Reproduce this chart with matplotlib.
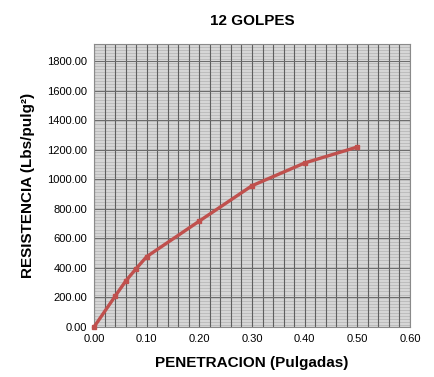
import numpy as np
import matplotlib.pyplot as plt
from matplotlib.ticker import MultipleLocator, FormatStrFormatter

plt.rcParams['font.family'] = ['Liberation Sans', 'DejaVu Sans']

# curva esfuerzo - penetracion
penetracion = [0.00, 0.04, 0.06, 0.08, 0.10, 0.20, 0.30, 0.40, 0.50]
resistencia = [0.0, 208.0, 310.0, 395.0, 476.0, 717.0, 956.0, 1110.0, 1218.0]

fig = plt.figure(figsize=(4.34, 3.77), dpi=100)
ax = fig.add_axes([0.2166, 0.1326, 0.7281, 0.7507])
ax.set_facecolor('#bdbdbd')

ymax = 1915
ax.set_xlim(0, 0.6)
ax.set_ylim(0, ymax)

ax.xaxis.set_major_locator(MultipleLocator(0.1))
ax.xaxis.set_minor_locator(MultipleLocator(0.02))
ax.yaxis.set_major_locator(MultipleLocator(200))
ax.xaxis.set_major_formatter(FormatStrFormatter('%.2f'))
ax.yaxis.set_major_formatter(FormatStrFormatter('%.2f'))

# lineas finas horizontales (papel milimetrado)
ax.hlines(np.arange(10, ymax, 10), 0, 0.6, color='#e2e2e2', lw=0.5, zorder=0.1)
ax.grid(axis='y', which='major', color='#6a6a6a', lw=0.7)
ax.grid(axis='x', which='both', color='#5e5e5e', lw=0.8)
ax.set_axisbelow(True)

ax.tick_params(which='both', length=0, labelsize=8, pad=5)
for s in ax.spines.values():
    s.set_color('#8a8a8a')
    s.set_linewidth(0.8)

ax.plot(penetracion, resistencia, color='#c0504d', lw=2.4,
        marker='s', ms=2.5, zorder=3, clip_on=False)

ax.set_title('12 GOLPES', fontsize=11, fontweight='bold', pad=14)
ax.set_xlabel('PENETRACION (Pulgadas)', fontsize=11, fontweight='bold', labelpad=9)
ax.set_ylabel('RESISTENCIA (Lbs/pulg²)', fontsize=11, fontweight='bold', labelpad=9)

fig.savefig('out.png', dpi=100)
